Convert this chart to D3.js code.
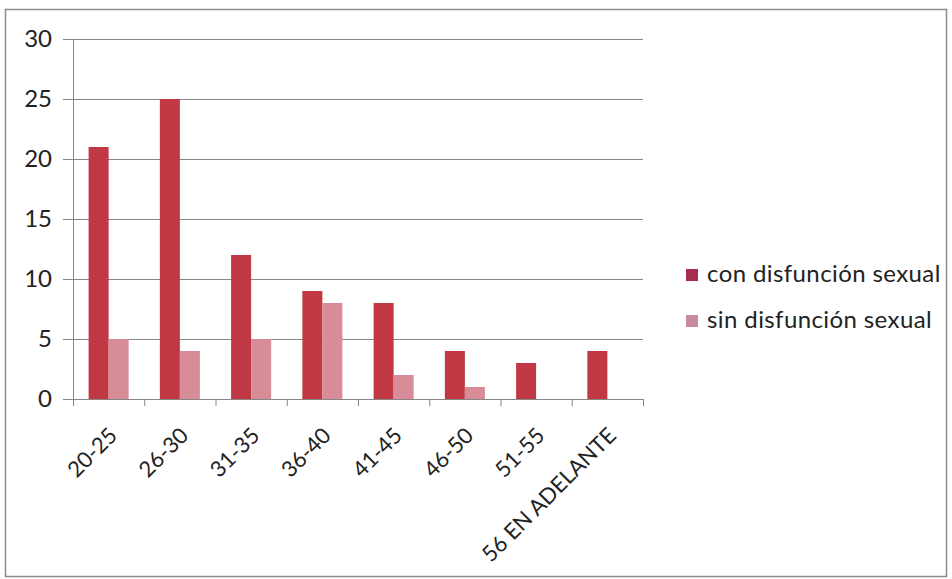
<!DOCTYPE html>
<html><head><meta charset="utf-8">
<script src="https://cdn.jsdelivr.net/npm/d3@7"></script>
<style>html,body{margin:0;padding:0;background:#fff}svg{display:block}</style>
</head><body>
<svg id="c" width="952" height="579"></svg>
<script>
const categories = ["20-25","26-30","31-35","36-40","41-45","46-50","51-55","56 EN ADELANTE"];
const conDisfuncion = [21,25,12,9,8,4,3,4];
const sinDisfuncion = [5,4,5,8,2,1,0,0];
const seriesNames = ["con disfunción sexual","sin disfunción sexual"];
const yTicks = [0,5,10,15,20,25,30];
const colors = ["#bf3844","#d88c97"];
const legendColors = ["#a82c50","#c98a9b"];

(function(){
const svg = d3.select("#c");
const font = "Lato, 'Open Sans', sans-serif";
const fs = 24;
svg.append("rect").attr("x",5.5).attr("y",9.5).attr("width",941).attr("height",567)
  .attr("fill","#fff").attr("stroke","#8c8c8c").attr("stroke-width",1.5);

const pl = 73, pr = 643, pt = 39, pb = 399;
const x = d3.scaleBand().domain(categories).range([pl,pr]).paddingInner(0).paddingOuter(0);
const y = d3.scaleLinear().domain([0,30]).range([pb,pt]);
const x1 = d3.scaleBand().domain([0,1]).range([0,x.bandwidth()]).paddingInner(0).paddingOuter(0.78);

const yAxis = d3.axisLeft(y).tickValues(yTicks).tickSize(-(pr-pl)).tickPadding(21).tickFormat(d3.format("d"));
const gy = svg.append("g").attr("transform",`translate(${pl},0)`).call(yAxis);
gy.select(".domain").remove();
gy.selectAll(".tick line").attr("stroke","#868686").attr("stroke-width",1);
gy.selectAll(".tick").append("line").attr("x1",-10).attr("x2",0).attr("stroke","#868686");
gy.selectAll(".tick text").attr("font-family",font).attr("font-size",fs).attr("fill","#222");

svg.append("line").attr("x1",pl+0.5).attr("x2",pl+0.5).attr("y1",pt).attr("y2",pb)
  .attr("stroke","#868686");

const data = categories.map((c,i)=>({c, v:[conDisfuncion[i], sinDisfuncion[i]]}));
const groups = svg.append("g").selectAll("g").data(data).join("g")
  .attr("transform",d=>`translate(${x(d.c)},0)`);
groups.selectAll("rect").data(d=>d.v.map((v,k)=>({v,k}))).join("rect")
  .attr("x",d=>x1(d.k)).attr("width",x1.bandwidth())
  .attr("y",d=>y(d.v)).attr("height",d=>pb-y(d.v))
  .attr("fill",d=>colors[d.k]);

const xAxis = d3.axisBottom(x).tickSize(0).tickFormat(d=>d);
const gx = svg.append("g").attr("transform",`translate(0,${pb})`).call(xAxis);
gx.select(".domain").remove();
svg.append("line").attr("x1",pl).attr("x2",pr).attr("y1",pb+0.5).attr("y2",pb+0.5).attr("stroke","#868686");
svg.append("g").selectAll("line").data(d3.range(categories.length+1)).join("line")
  .attr("x1",i=>pl+i*x.bandwidth()+0.5).attr("x2",i=>pl+i*x.bandwidth()+0.5)
  .attr("y1",pb).attr("y2",pb+7).attr("stroke","#868686");
gx.selectAll(".tick text")
  .attr("font-family",font).attr("font-size",22).attr("fill","#222")
  .attr("text-anchor","end").attr("dy",0).attr("y",0)
  .attr("transform","translate(10,38) rotate(-45)");

const lg = svg.append("g");
seriesNames.forEach((n,i)=>{
  const yy = 282 + i*46;
  lg.append("rect").attr("x",686).attr("y",yy-13).attr("width",12).attr("height",12).attr("fill",legendColors[i]);
  lg.append("text").attr("x",707).attr("y",yy).text(n)
    .attr("font-family",font).attr("font-size",fs).attr("letter-spacing",0.4).attr("fill","#222");
});
})();
</script>
</body></html>
